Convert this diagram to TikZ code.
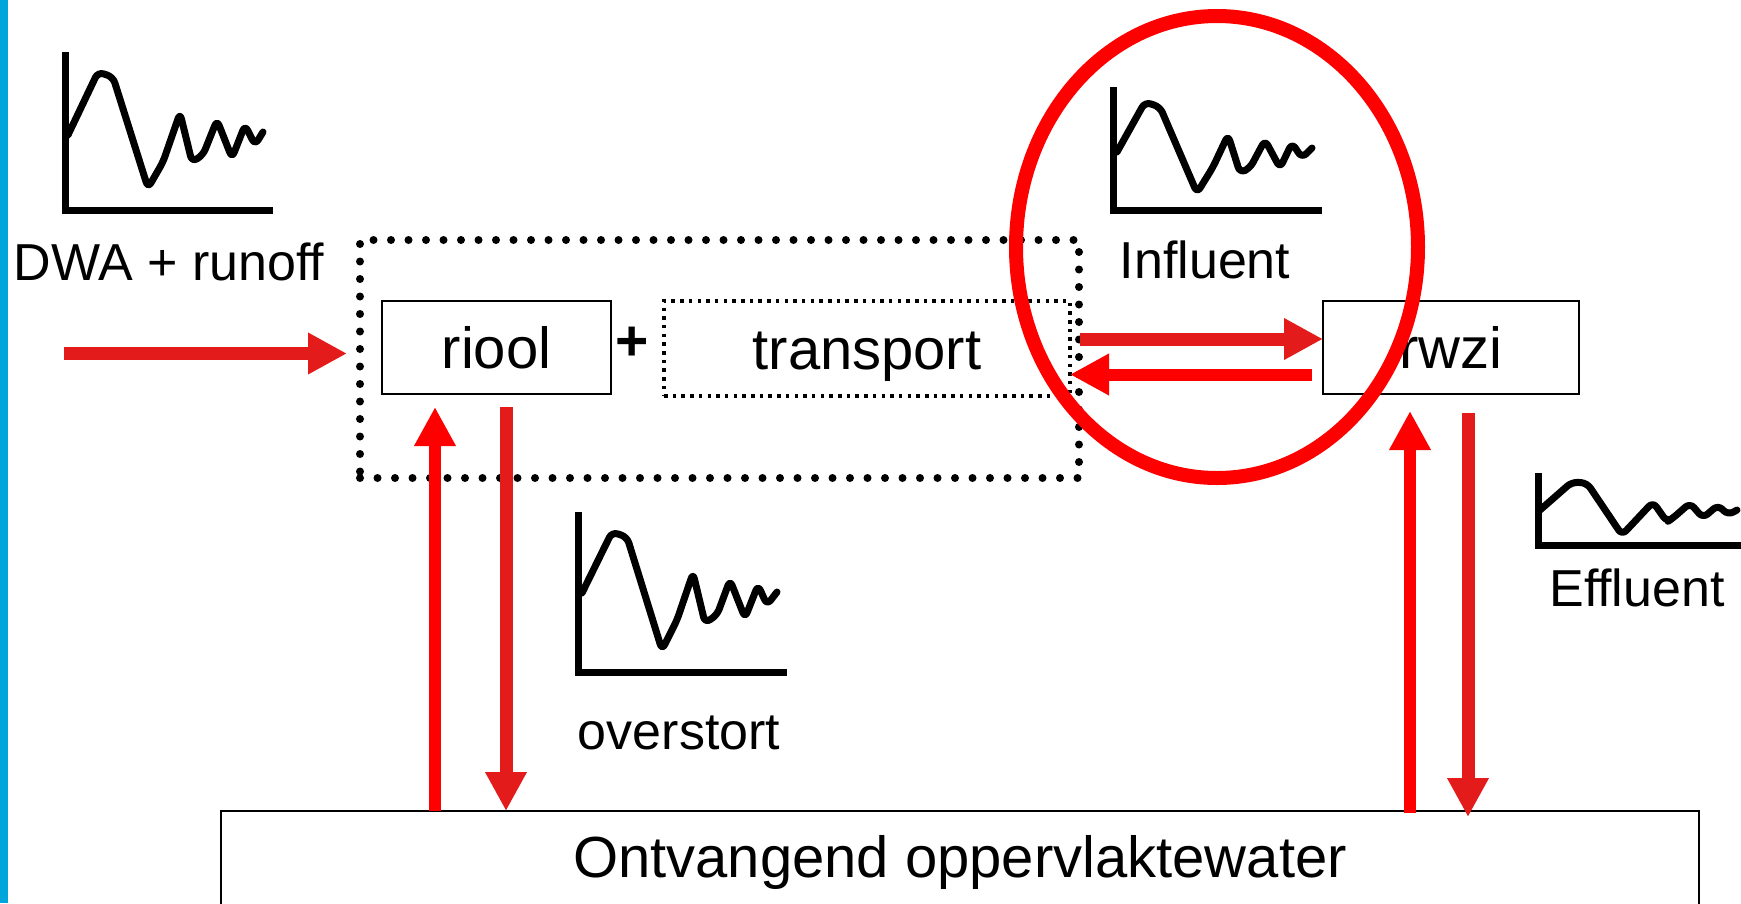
\documentclass[tikz,border=0pt]{standalone}
\usepackage{fontspec}
\setmainfont{Liberation Sans}
\usetikzlibrary{arrows.meta}
\definecolor{flowred}{RGB}{227,27,27}
\definecolor{hotred}{RGB}{255,0,0}
\definecolor{edgeblue}{RGB}{0,165,219}
\newcommand{\bigtxt}{\fontsize{58}{66}\selectfont}
\newcommand{\lbltxt}{\fontsize{52}{60}\selectfont}
\begin{document}
\begin{tikzpicture}[x=1pt,y=-1pt,
  every node/.style={outer sep=0pt},
  unitbox/.style={draw, line width=2.5pt, inner sep=0pt, font=\bigtxt,
    text height=41.5pt, text depth=0pt},
  groupbox/.style={draw, line width=8pt, line cap=round,
    dash pattern=on 0pt off 17.5pt, inner sep=0pt},
  fineboxdots/.style={draw, line width=3.5pt, dash pattern=on 3.5pt off 5.2pt,
    inner sep=0pt, font=\bigtxt, text height=41.5pt, text depth=0pt},
  lbl/.style={font=\lbltxt, anchor=base, inner sep=0pt},
  flow/.style={draw=flowred, line width=13pt,
    -{Triangle[length=39pt,width=39pt]}, color=flowred},
  back/.style={draw=hotred, line width=12pt,
    -{Triangle[length=39pt,width=39pt]}, color=hotred},
  axis/.style={line width=7pt},
  trace/.style={line width=7pt, line join=round, line cap=round, rounded corners=6pt}]

\useasboundingbox (0,0) rectangle (1741,903);
\clip (0,0) rectangle (1741,903);

% side bar
\fill[edgeblue] (0,0) rectangle (8,903);

% sketches of the flow curves
\draw[axis] (65,52) -- (65,210) -- (273,210);
\draw[trace] (68,135) -- (98,72) -- (113,77) -- (148,188) -- (163,162) -- (180,113)
  -- (192,162) -- (203,155) -- (217,120) -- (232,158) -- (245,125) -- (255,145) -- (263,132);

\draw[axis] (1113,87) -- (1113,210) -- (1322,210);
\draw[trace] (1117,152) -- (1145,102) -- (1160,107) -- (1197,193) -- (1213,167) -- (1228,135)
  -- (1240,173) -- (1250,168) -- (1265,140) -- (1280,168) -- (1292,143) -- (1302,158) -- (1312,148);

\draw[axis] (1538,473) -- (1538,545) -- (1760,545);
\draw[trace] (1540,510) -- (1572,482) -- (1587,483) -- (1622,535) -- (1653,502) -- (1667,522)
  -- (1673,518) -- (1690,503) -- (1703,518) -- (1718,505) -- (1728,515) -- (1737,510);

\draw[axis] (578,512) -- (578,672) -- (787,672);
\draw[trace] (582,593) -- (612,532) -- (627,537) -- (662,650) -- (677,620) -- (693,573)
  -- (705,623) -- (717,615) -- (730,580) -- (745,618) -- (758,585) -- (767,605) -- (777,592);

% labels
\node[lbl] (dwa) at (169,280) {DWA + runoff};
\node[lbl] (infl) at (1205,278) {Influent};
\node[lbl] (effl) at (1637,606) {Effluent};
\node[lbl] (ovst) at (679,749) {overstort};

% boxes
\node[groupbox, minimum width=719pt, minimum height=238pt] (outer) at (719.5,359) {};
\node[unitbox, minimum width=229pt, minimum height=93pt] (riool) at (496.5,347.5) {riool};
\node[font=\bfseries\fontsize{57}{62}\selectfont, inner sep=0pt] (plus) at (632.5,344) {+};
\node[fineboxdots, minimum width=406pt, minimum height=95pt] (transport) at (867,348.5) {transport};
\node[unitbox, minimum width=256pt, minimum height=93pt] (rwzi) at (1451,347.5) {rwzi};
\node[draw, line width=2pt, inner sep=0pt, minimum width=1478pt, minimum height=149pt] (ontv) at (960,885.5) {};
\node[font=\bigtxt, anchor=base, inner sep=0pt] (ontvtxt) at (960,877) {Ontvangend oppervlaktewater};

% connectors
\coordinate (dwaS) at (64,353.5);
\coordinate (yIn) at (0,339);
\coordinate (yBack) at (0,374.5);
\coordinate (xRU) at (435,0);
\coordinate (xRD) at (506,0);
\coordinate (xWU) at (1410,0);
\coordinate (xWD) at (1468,0);

\draw[flow, shorten >=13pt] (dwaS) -- (outer.west |- dwaS);
\draw[back, shorten >=13pt] (ontv.north -| xRU) -- (riool.south -| xRU);
\draw[flow, shorten <=13pt] (riool.south -| xRD) -- (ontv.north -| xRD);
\draw[flow, shorten <=1pt] (outer.east |- yIn) -- (rwzi.west |- yIn);
\draw[back, shorten <=11pt] (rwzi.west |- yBack) -- (transport.east |- yBack);
\draw[back, shorten <=-2pt, shorten >=17pt] (ontv.north -| xWU) -- (rwzi.south -| xWU);
\draw[flow, shorten <=19pt, shorten >=-6pt] (rwzi.south -| xWD) -- (ontv.north -| xWD);

% highlight ring
\draw[hotred, line width=14pt] (1217,247) ellipse [x radius=201pt, y radius=231pt];
\end{tikzpicture}
\end{document}
